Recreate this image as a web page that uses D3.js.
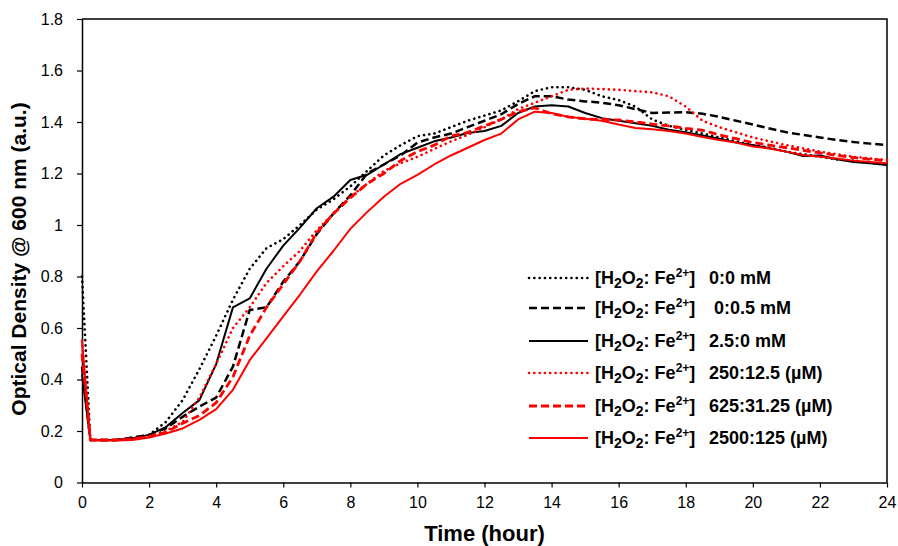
<!DOCTYPE html>
<html>
<head>
<meta charset="utf-8">
<script src="https://cdn.jsdelivr.net/npm/d3@7/dist/d3.min.js"></script>
<style>
  html, body { margin: 0; padding: 0; background: #fff; }
  svg { display: block; font-family: "Liberation Sans", Arial, sans-serif; }
</style>
</head>
<body>
<svg id="chart" width="898" height="546"></svg>
<script>
// Sampling times (hours)
const hours = [0, 0.25, 0.5, 1, 1.5, 2, 2.5, 3, 3.5, 4, 4.5, 5, 5.5, 6, 6.5, 7, 7.5, 8, 8.5, 9,
  9.5, 10, 10.5, 11, 11.5, 12, 12.5, 13, 13.5, 14, 14.5, 15, 15.5, 16, 16.5, 17, 17.5, 18,
  18.5, 19, 19.5, 20, 20.5, 21, 21.5, 22, 22.5, 23, 23.5, 24];

// Optical density at 600 nm for each treatment
const od_0_0 = [0.80, 0.165, 0.165, 0.165, 0.17, 0.185, 0.235, 0.32, 0.44, 0.57, 0.71, 0.83, 0.91, 0.945, 1.0, 1.06, 1.10, 1.15, 1.21, 1.27,
  1.31, 1.345, 1.355, 1.38, 1.405, 1.425, 1.445, 1.48, 1.52, 1.535, 1.535, 1.525, 1.50, 1.485, 1.46, 1.41, 1.385, 1.37,
  1.355, 1.34, 1.325, 1.31, 1.30, 1.285, 1.275, 1.265, 1.255, 1.25, 1.24, 1.235];
const od_0_05 = [0.45, 0.165, 0.165, 0.165, 0.175, 0.185, 0.21, 0.255, 0.295, 0.33, 0.45, 0.67, 0.68, 0.78, 0.86, 0.965, 1.045, 1.115, 1.20, 1.235,
  1.27, 1.32, 1.34, 1.355, 1.38, 1.405, 1.43, 1.47, 1.50, 1.50, 1.487, 1.48, 1.475, 1.465, 1.45, 1.435, 1.437, 1.438,
  1.432, 1.42, 1.405, 1.39, 1.375, 1.36, 1.35, 1.34, 1.33, 1.322, 1.316, 1.31];
const od_25_0 = [0.42, 0.165, 0.165, 0.165, 0.172, 0.185, 0.215, 0.27, 0.32, 0.46, 0.68, 0.715, 0.83, 0.92, 0.99, 1.065, 1.11, 1.175, 1.195, 1.235,
  1.275, 1.30, 1.325, 1.34, 1.357, 1.365, 1.385, 1.435, 1.46, 1.465, 1.46, 1.435, 1.415, 1.405, 1.395, 1.385, 1.37, 1.36,
  1.348, 1.335, 1.32, 1.31, 1.298, 1.285, 1.268, 1.27, 1.255, 1.245, 1.24, 1.233];
const od_250_125 = [0.55, 0.165, 0.165, 0.165, 0.17, 0.18, 0.20, 0.235, 0.33, 0.46, 0.60, 0.68, 0.775, 0.84, 0.90, 0.98, 1.045, 1.11, 1.16, 1.21,
  1.24, 1.265, 1.295, 1.325, 1.35, 1.38, 1.41, 1.45, 1.475, 1.50, 1.525, 1.53, 1.528, 1.525, 1.52, 1.515, 1.50, 1.46,
  1.405, 1.38, 1.36, 1.34, 1.325, 1.31, 1.298, 1.285, 1.275, 1.265, 1.258, 1.252];
const od_625_3125 = [0.50, 0.165, 0.165, 0.165, 0.17, 0.178, 0.195, 0.23, 0.26, 0.31, 0.41, 0.57, 0.68, 0.77, 0.86, 0.97, 1.045, 1.105, 1.16, 1.20,
  1.25, 1.285, 1.31, 1.345, 1.36, 1.385, 1.41, 1.44, 1.455, 1.432, 1.42, 1.412, 1.41, 1.408, 1.40, 1.392, 1.385, 1.375,
  1.368, 1.35, 1.335, 1.32, 1.31, 1.30, 1.29, 1.28, 1.27, 1.262, 1.255, 1.25];
const od_2500_125 = [0.55, 0.165, 0.163, 0.163, 0.165, 0.175, 0.19, 0.21, 0.243, 0.285, 0.36, 0.475, 0.56, 0.645, 0.73, 0.82, 0.90, 0.985, 1.05, 1.11,
  1.16, 1.195, 1.235, 1.27, 1.30, 1.33, 1.355, 1.41, 1.44, 1.435, 1.42, 1.413, 1.405, 1.39, 1.377, 1.372, 1.365, 1.355,
  1.342, 1.33, 1.32, 1.305, 1.297, 1.285, 1.272, 1.265, 1.258, 1.25, 1.245, 1.24];

// Legend text: the concentration part of each entry
const ratioLabels = ["0:0 mM", "\u00a00:0.5 mM", "2.5:0 mM", "250:12.5 (\u00b5M)", "625:31.25 (\u00b5M)", "2500:125 (\u00b5M)"];
const xTicks = [0, 2, 4, 6, 8, 10, 12, 14, 16, 18, 20, 22, 24];
const yTicks = [0, 0.2, 0.4, 0.6, 0.8, 1, 1.2, 1.4, 1.6, 1.8];

const seriesList = [
  { values: od_0_0,      color: "#000", dash: "0.1,5.2", width: 2.6, cap: "round" },
  { values: od_0_05,     color: "#000", dash: "8,4",     width: 2.5, cap: "butt" },
  { values: od_25_0,     color: "#000", dash: null,      width: 2,   cap: "butt" },
  { values: od_250_125,  color: "#ff0000", dash: "0.1,5.2", width: 2.6, cap: "round" },
  { values: od_625_3125, color: "#ff0000", dash: "8,4",   width: 2.8, cap: "butt" },
  { values: od_2500_125, color: "#ff0000", dash: null,    width: 2,   cap: "butt" }
];

const svg = d3.select("#chart");
const plotLeft = 82, plotRight = 887, plotTop = 19, plotBottom = 482.5;

const x = d3.scaleLinear().domain([0, 24]).range([plotLeft, plotRight]);
const y = d3.scaleLinear().domain([0, 1.8]).range([plotBottom, plotTop]);

// Plot frame (top and right edges)
svg.append("path")
  .attr("d", `M${plotLeft},${plotTop}H${plotRight}V${plotBottom}`)
  .attr("fill", "none").attr("stroke", "#000").attr("stroke-width", 1.5);

// Axes
const xAxis = svg.append("g").attr("transform", `translate(0,${plotBottom})`)
  .call(d3.axisBottom(x).tickValues(xTicks).tickSize(5).tickSizeOuter(0).tickFormat(d3.format("d")));
const yAxis = svg.append("g").attr("transform", `translate(${plotLeft},0)`)
  .call(d3.axisLeft(y).tickValues(yTicks).tickSize(5).tickSizeOuter(0).tickFormat(d => d3.format("~g")(d)));

[xAxis, yAxis].forEach(g => {
  g.select(".domain").attr("stroke", "#000").attr("stroke-width", 1.5);
  g.selectAll(".tick line").attr("stroke", "#000").attr("stroke-width", 1.2);
  g.selectAll(".tick text").attr("fill", "#000")
    .style("font-family", "'Liberation Sans', Arial, sans-serif").style("font-size", "16px");
});
xAxis.selectAll(".tick text").attr("dy", "0.95em").attr("y", 10);
yAxis.selectAll(".tick text").attr("x", -19);

// Axis titles
svg.append("text")
  .attr("x", (plotLeft + plotRight) / 2).attr("y", 541)
  .attr("text-anchor", "middle")
  .style("font-weight", "bold").style("font-size", "22px")
  .text("Time (hour)");
svg.append("text")
  .attr("transform", `translate(26,259) rotate(-90)`)
  .attr("text-anchor", "middle")
  .style("font-weight", "bold").style("font-size", "21px")
  .text("Optical Density @ 600 nm (a.u.)");

// Curves
const line = d3.line()
  .x((d, i) => x(hours[i]))
  .y(d => y(d));

seriesList.forEach(s => {
  svg.append("path")
    .datum(s.values)
    .attr("d", line)
    .attr("fill", "none")
    .attr("stroke", s.color)
    .attr("stroke-width", s.width)
    .attr("stroke-linecap", s.cap)
    .attr("stroke-linejoin", "round")
    .attr("stroke-dasharray", s.dash);
});

// Legend
const legend = svg.append("g");
const rowY = [278, 308, 341, 373, 406, 438];
seriesList.forEach((s, i) => {
  const yy = rowY[i];
  legend.append("line")
    .attr("x1", 529).attr("x2", 588).attr("y1", yy).attr("y2", yy)
    .attr("stroke", s.color).attr("stroke-width", s.width)
    .attr("stroke-linecap", s.cap)
    .attr("stroke-dasharray", s.dash);
  const t = legend.append("text")
    .attr("x", 595).attr("y", yy + 6)
    .style("font-weight", "bold").style("font-size", "18px");
  t.append("tspan").text("[H");
  t.append("tspan").attr("dy", 4).style("font-size", "14px").text("2");
  t.append("tspan").attr("dy", -4).text("O");
  t.append("tspan").attr("dy", 4).style("font-size", "14px").text("2");
  t.append("tspan").attr("dy", -4).text(": Fe");
  t.append("tspan").attr("dy", -7).style("font-size", "12px").text("2+");
  t.append("tspan").attr("dy", 7).text("]");
  legend.append("text")
    .attr("x", 709).attr("y", yy + 6)
    .style("font-weight", "bold").style("font-size", "18px")
    .text(ratioLabels[i]);
});
</script>
</body>
</html>
